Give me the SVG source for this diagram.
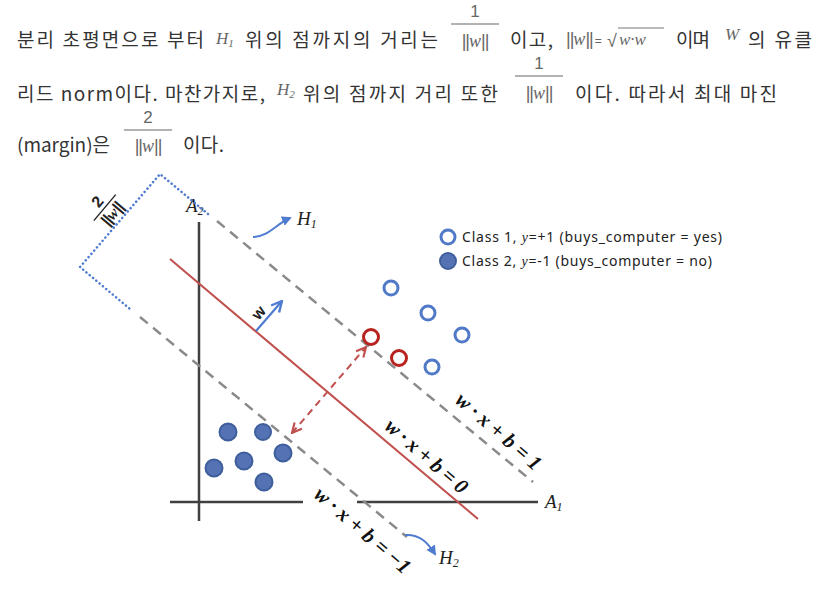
<svg xmlns="http://www.w3.org/2000/svg" width="828" height="595" viewBox="0 0 828 595">
<defs>
<style>
.ko{font-family:"Noto Sans CJK KR","Noto Sans",sans-serif;font-size:19px;fill:#333}
.mth{font-family:"Liberation Serif",serif;font-style:italic;fill:#666;font-size:17px}
.num{font-family:"Liberation Sans",sans-serif;fill:#666;font-size:17px}
.nrm{font-family:"Liberation Sans",sans-serif;fill:#666;font-size:18px;letter-spacing:-1px}
.bar{stroke:#999;stroke-width:1.5}
.lbl{font-family:"Liberation Serif",serif;font-style:italic;font-weight:bold;font-size:21px;fill:#111}
.ax{font-family:"Liberation Serif",serif;font-style:italic;font-size:19px;fill:#222}
.leg{font-family:"Noto Sans","Liberation Sans",sans-serif;font-size:14px;fill:#222}
.gd{stroke:#8a8a8a;stroke-width:2.5;stroke-dasharray:10 7;fill:none}
.dot{stroke:#4f7bd0;stroke-width:2.5;stroke-dasharray:0.1 4.2;stroke-linecap:round;fill:none}
.o1{fill:#fff;stroke:#5079c8;stroke-width:3}
.f2{fill:#5573b4;stroke:#3e5e9c;stroke-width:2}
.ro{fill:#fff;stroke:#b8231f;stroke-width:3}
.wi{font-family:"Liberation Serif",serif;font-style:italic;letter-spacing:0}
</style>
<marker id="fa" viewBox="0 0 10 10" refX="8" refY="5" markerWidth="5" markerHeight="5" orient="auto"><path d="M0,0 L10,5 L0,10 z" fill="#4f7bd0"/></marker>
<marker id="oa" viewBox="0 0 10 10" refX="9" refY="5" markerWidth="6" markerHeight="6" orient="auto-start-reverse"><path d="M1,1 L9,5 L1,9" fill="none" stroke="#c0504d" stroke-width="1.8"/></marker>
<marker id="ba" viewBox="0 0 10 10" refX="9" refY="5" markerWidth="6" markerHeight="6" orient="auto"><path d="M1,1 L9,5 L1,9" fill="none" stroke="#4f7bd0" stroke-width="1.8"/></marker>
</defs>
<rect width="828" height="595" fill="#fff"/>

<g id="paragraph">
<text class="ko" x="17" y="47" textLength="187" lengthAdjust="spacing">분리 초평면으로 부터</text>
<text class="mth" x="216" y="44">H<tspan font-size="11" dy="3">1</tspan></text>
<text class="ko" x="245" y="47" textLength="193" lengthAdjust="spacing">위의 점까지의 거리는</text>
<text class="num" x="475" y="17" text-anchor="middle">1</text>
<line class="bar" x1="451" y1="24" x2="499" y2="24"/>
<text class="nrm" x="475" y="47" text-anchor="middle">||<tspan class="wi">w</tspan>||</text>
<text class="ko" x="510" y="47" textLength="43" lengthAdjust="spacing">이고,</text>
<text class="nrm" x="566" y="45" font-size="17">||<tspan class="wi">w</tspan>||<tspan font-size="12" dx="2">=</tspan></text>
<text class="nrm" x="607" y="47" font-size="18">√</text>
<line x1="618" y1="28" x2="664" y2="28" stroke="#777" stroke-width="1"/>
<text class="mth" x="619" y="45">w·w</text>
<text class="ko" x="676" y="47" textLength="34" lengthAdjust="spacing">이며</text>
<text class="mth" x="725" y="40">W</text>
<text class="ko" x="748" y="47" textLength="64" lengthAdjust="spacing">의 유클</text>

<text class="ko" x="17" y="101" textLength="248" lengthAdjust="spacing">리드 norm이다. 마찬가지로,</text>
<text class="mth" x="277" y="95">H<tspan font-size="11" dy="3">2</tspan></text>
<text class="ko" x="303" y="101" textLength="195" lengthAdjust="spacing">위의 점까지 거리 또한</text>
<text class="num" x="539" y="69" text-anchor="middle">1</text>
<line class="bar" x1="515" y1="76" x2="563" y2="76"/>
<text class="nrm" x="539" y="99" text-anchor="middle">||<tspan class="wi">w</tspan>||</text>
<text class="ko" x="575" y="101" textLength="202" lengthAdjust="spacing">이다. 따라서 최대 마진</text>

<text class="ko" x="17" y="152" textLength="93" lengthAdjust="spacing">(margin)은</text>
<text class="num" x="148" y="123" text-anchor="middle">2</text>
<line class="bar" x1="124" y1="130" x2="172" y2="130"/>
<text class="nrm" x="148" y="152" text-anchor="middle">||<tspan class="wi">w</tspan>||</text>
<text class="ko" x="183" y="152" textLength="41" lengthAdjust="spacing">이다.</text>
</g>

<g id="axes" stroke="#404040" stroke-width="2.5">
<line x1="199" y1="222" x2="199" y2="521"/>
<line x1="170" y1="502" x2="303" y2="502"/>
<line x1="357" y1="502" x2="538" y2="502"/>
</g>
<g id="axis-labels">
<text class="ax" x="186" y="212">A<tspan font-size="12" dy="3">2</tspan></text>
<text class="ax" x="545" y="508">A<tspan font-size="12" dy="3">1</tspan></text>
</g>

<g id="connectors">
<path class="dot" d="M208,214 L160,174 L80,267 L130,309"/>
<line class="gd" x1="217" y1="221" x2="533" y2="482"/>
<line class="gd" x1="140" y1="317" x2="407" y2="537"/>
<line x1="170" y1="259" x2="478" y2="519" stroke="#c0504d" stroke-width="2"/>
<line x1="292" y1="433" x2="366" y2="347" stroke="#c0504d" stroke-width="2" stroke-dasharray="7 5" marker-start="url(#oa)" marker-end="url(#oa)"/>
<line x1="256" y1="331" x2="282" y2="301" stroke="#4f7bd0" stroke-width="2.2" marker-end="url(#ba)"/>
<path d="M253,237 C268,237 276,224 290,218" fill="none" stroke="#4f7bd0" stroke-width="2" marker-end="url(#fa)"/>
<path d="M405,535 C420,534 428,543 435,554" fill="none" stroke="#4f7bd0" stroke-width="2" marker-end="url(#fa)"/>
</g>

<g id="margin-label" transform="translate(104,207) rotate(-50)">
<text x="0" y="-3" text-anchor="middle" font-family="Liberation Sans,sans-serif" font-weight="bold" font-size="16" fill="#222">2</text>
<line x1="-17" y1="1" x2="17" y2="1" stroke="#222" stroke-width="1.4"/>
<text x="0" y="16" text-anchor="middle" font-family="Liberation Sans,sans-serif" font-weight="bold" font-size="16" fill="#222" letter-spacing="-1">||<tspan font-family="Liberation Serif,serif" font-style="italic" letter-spacing="0">w</tspan>||</text>
</g>

<g id="hyperplane-labels">
<text class="ax" x="297" y="225">H<tspan font-size="12" dy="3">1</tspan></text>
<text class="ax" x="439" y="564">H<tspan font-size="12" dy="3">2</tspan></text>
<text class="lbl" transform="translate(498,432) rotate(41)" x="0" y="6" text-anchor="middle" textLength="106" lengthAdjust="spacing">w · x + b = 1</text>
<text class="lbl" transform="translate(426,457) rotate(41)" x="0" y="6" text-anchor="middle" textLength="102" lengthAdjust="spacing">w · x + b = 0</text>
<text class="lbl" transform="translate(362,531) rotate(41)" x="0" y="6" text-anchor="middle" textLength="120" lengthAdjust="spacing">w · x + b = −1</text>
<text transform="translate(259,313) rotate(-50)" x="0" y="5" text-anchor="middle" font-family="Liberation Sans,sans-serif" font-weight="bold" font-size="16" fill="#222">w</text>
</g>

<g id="class1-points">
<circle class="o1" cx="391" cy="288" r="7"/>
<circle class="o1" cx="428" cy="313" r="7"/>
<circle class="o1" cx="462" cy="335" r="7"/>
<circle class="o1" cx="432" cy="367" r="7"/>
<circle class="ro" cx="371" cy="337" r="7.5"/>
<circle class="ro" cx="399" cy="358" r="7.5"/>
</g>
<g id="class2-points">
<circle class="f2" cx="228" cy="432" r="8.5"/>
<circle class="f2" cx="263" cy="432" r="8" stroke="#b8231f" stroke-width="3"/>
<circle class="f2" cx="283" cy="453" r="8.5"/>
<circle class="f2" cx="244" cy="461" r="8.5"/>
<circle class="f2" cx="214" cy="468" r="8.5"/>
<circle class="f2" cx="264" cy="482" r="8.5"/>
</g>

<g id="legend">
<circle class="o1" cx="448" cy="237" r="7" stroke-width="2.5"/>
<text class="leg" x="462" y="242" textLength="260" lengthAdjust="spacing">Class 1, <tspan font-family="Liberation Serif" font-style="italic">y</tspan>=+1 (buys_computer = yes)</text>
<circle class="f2" cx="448" cy="261" r="8"/>
<text class="leg" x="462" y="266" textLength="250" lengthAdjust="spacing">Class 2, <tspan font-family="Liberation Serif" font-style="italic">y</tspan>=-1 (buys_computer = no)</text>
</g>
</svg>
